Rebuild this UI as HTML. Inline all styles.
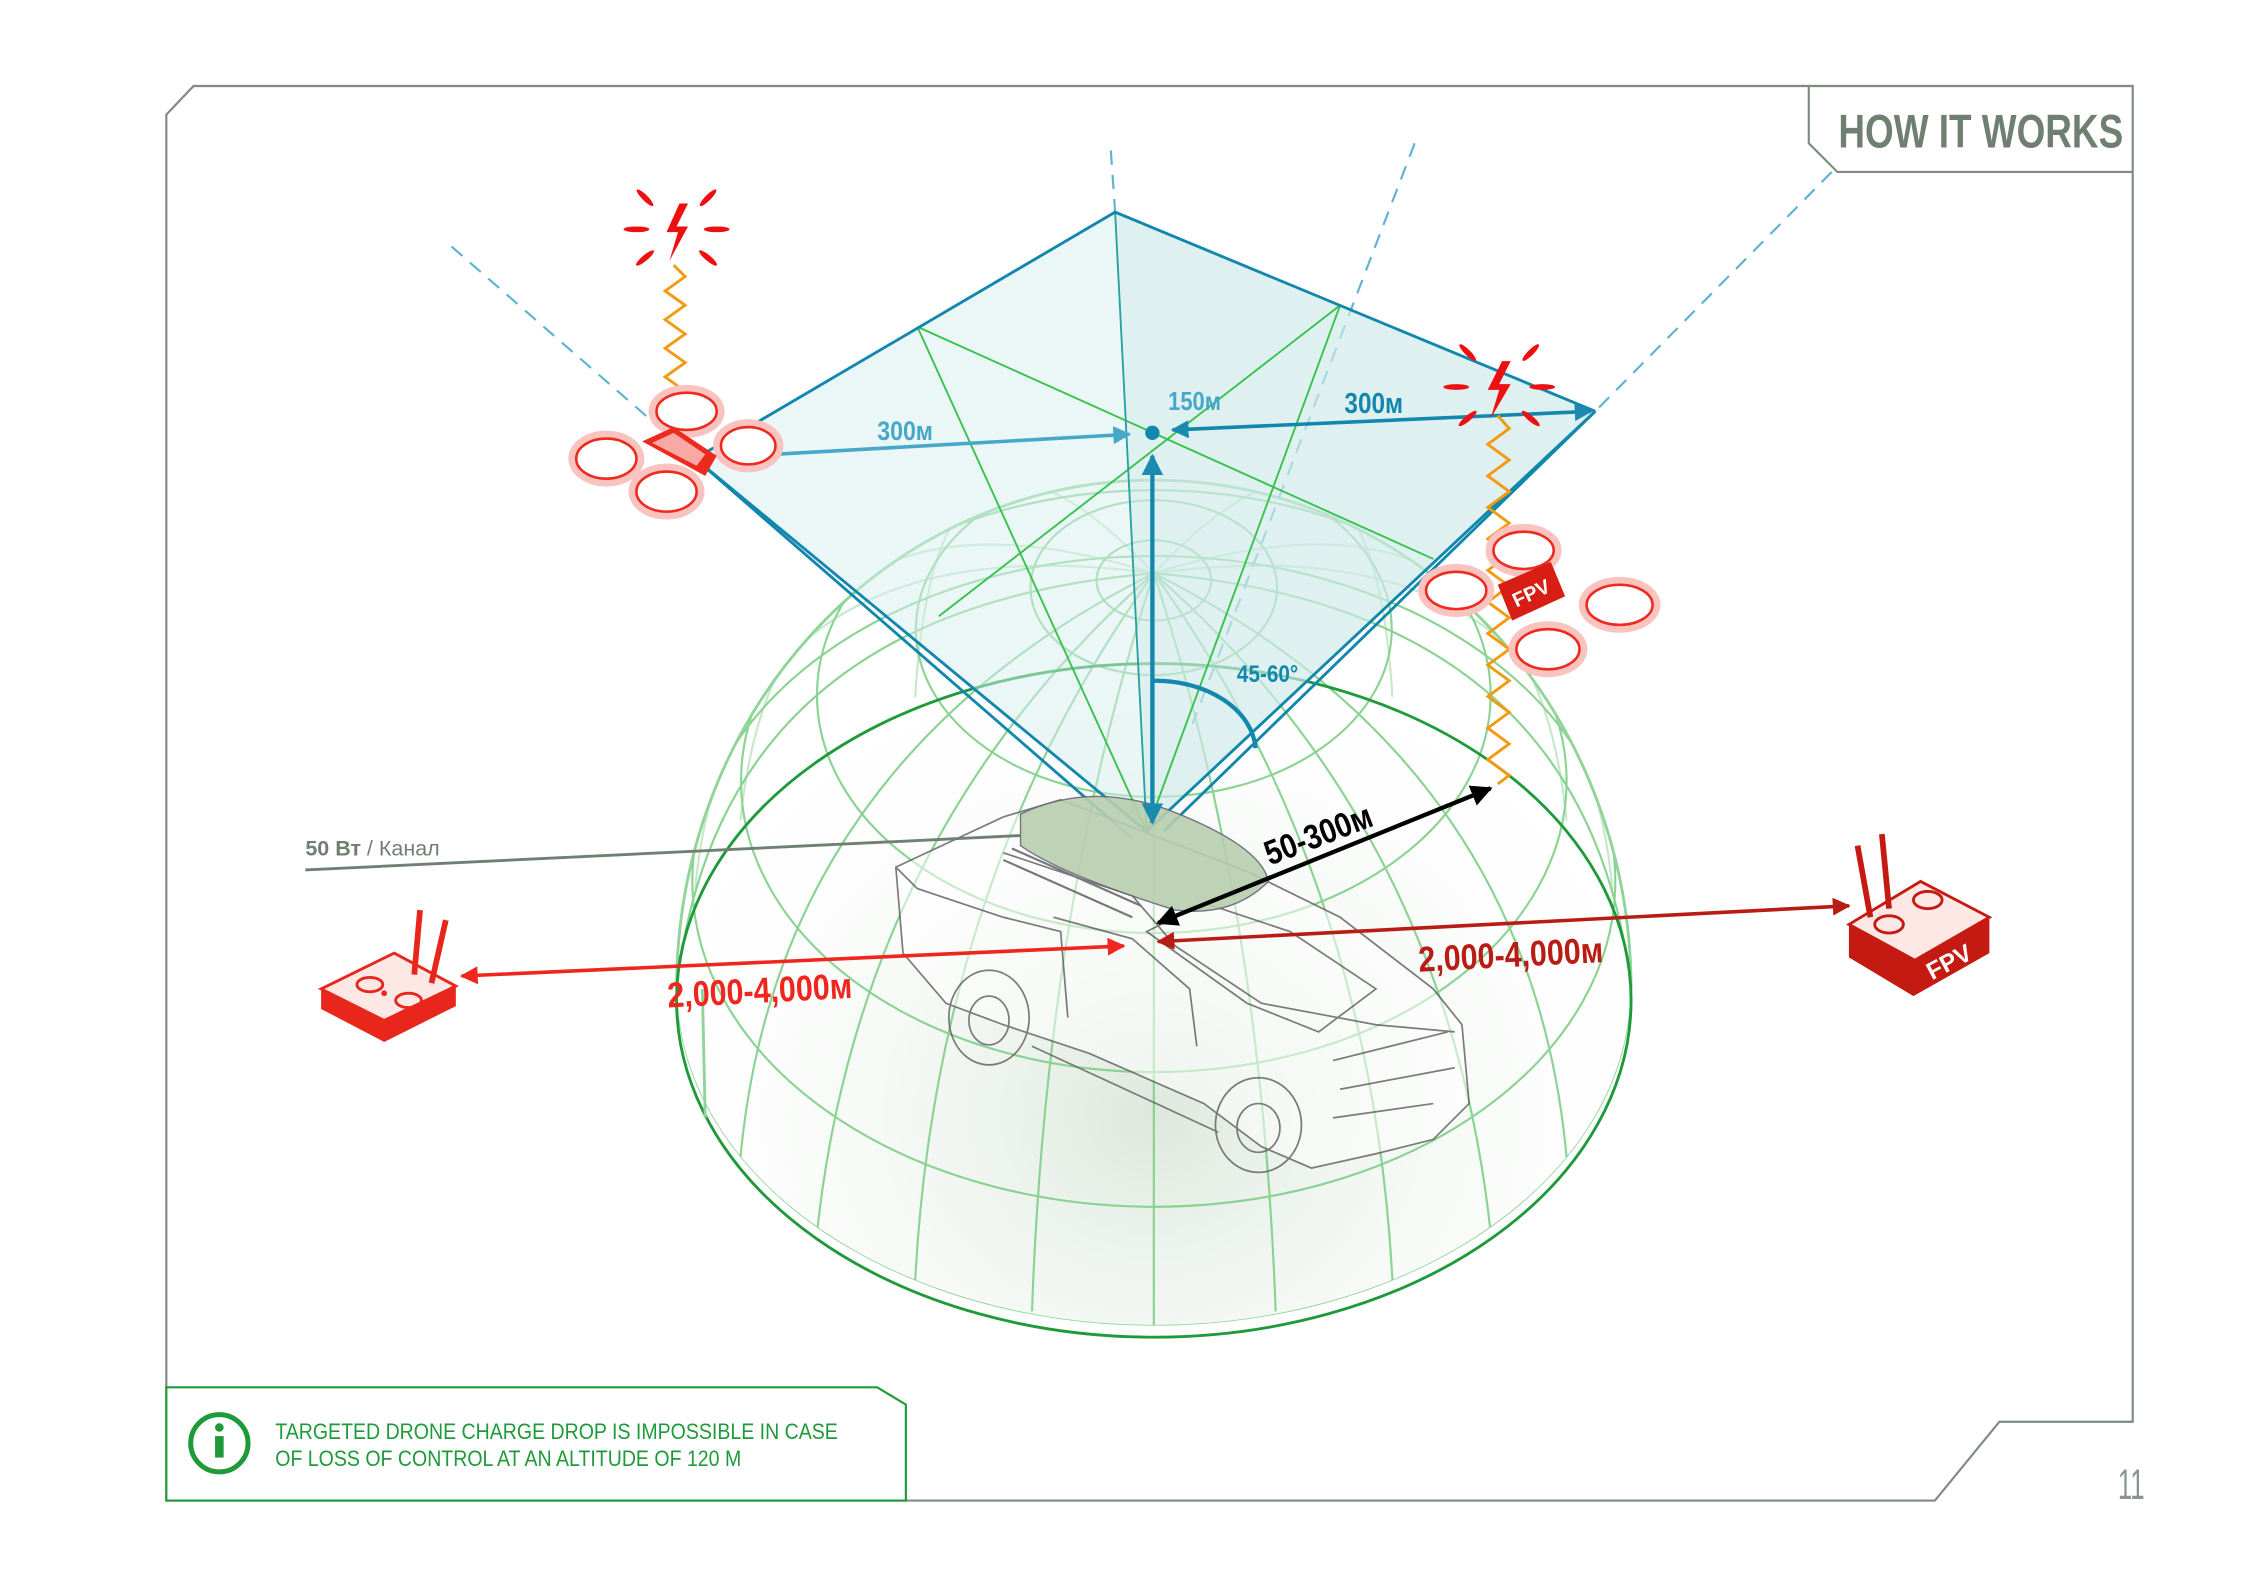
<!DOCTYPE html>
<html><head><meta charset="utf-8"><style>html,body{margin:0;padding:0;background:#fff}svg{display:block}</style></head>
<body>
<svg width="2246" height="1588" viewBox="0 0 1567 1108" xmlns="http://www.w3.org/2000/svg" font-family="'Liberation Sans', 'Noto Sans CJK SC', sans-serif">
<defs>
<clipPath id="dome"><path d="M472,690 A333,355 0 0 1 1138,690 A333,235 0 0 1 472,690 Z"/></clipPath>
<radialGradient id="g1" cx="0.5" cy="0.75" r="0.6"><stop offset="0" stop-color="#dde8dd"/><stop offset="1" stop-color="#ffffff" stop-opacity="0"/></radialGradient>
<marker id="ab" viewBox="0 0 10 10" refX="9" refY="5" markerWidth="5" markerHeight="5" orient="auto-start-reverse"><path d="M0,0 L10,5 L0,10 Z" fill="#1a8ab0"/></marker>
<marker id="ab2" viewBox="0 0 10 10" refX="9" refY="5" markerWidth="5" markerHeight="5" orient="auto-start-reverse"><path d="M0,0 L10,5 L0,10 Z" fill="#46a7c8"/></marker>
<marker id="ak" viewBox="0 0 10 10" refX="9" refY="5" markerWidth="5" markerHeight="5" orient="auto-start-reverse"><path d="M0,0 L10,5 L0,10 Z" fill="#000"/></marker>
<marker id="ar" viewBox="0 0 10 10" refX="9" refY="5" markerWidth="5" markerHeight="5" orient="auto-start-reverse"><path d="M0,0 L10,5 L0,10 Z" fill="#f0261e"/></marker>
<marker id="ad" viewBox="0 0 10 10" refX="9" refY="5" markerWidth="5" markerHeight="5" orient="auto-start-reverse"><path d="M0,0 L10,5 L0,10 Z" fill="#b91c14"/></marker>
</defs>

<path d="M116,80 L135,60 L1488,60 L1488,992 L1395,992 L1350,1047 L116,1047 Z" fill="none" stroke="#7d8c7e" stroke-width="1.5"/>
<path d="M1262,60 L1262,100 L1282,120 L1488,120" fill="none" stroke="#7d8c7e" stroke-width="1.5"/>
<text x="1382" y="103" font-size="33" font-weight="bold" fill="#6f7f72" text-anchor="middle" transform="translate(1382 0) scale(0.78 1) translate(-1382 0)">HOW IT WORKS</text>
<text x="1487" y="1046" font-size="30" fill="#8a968b" text-anchor="middle" transform="translate(1487 0) scale(0.6 1) translate(-1487 0)">11</text>

<path d="M116,968 L612,968 L632,980 L632,1047 L116,1047 Z" fill="#fff" stroke="#1f9a3a" stroke-width="1.5"/>
<circle cx="153" cy="1007" r="20" fill="none" stroke="#1f9a3a" stroke-width="3.5"/>
<circle cx="153" cy="996" r="3" fill="#1f9a3a"/>
<rect x="150" y="1002" width="6" height="15" fill="#1f9a3a"/>
<g transform="translate(192 0) scale(0.88 1)">
<text x="0" y="1004" font-size="15.5" fill="#1f9a3a">TARGETED DRONE CHARGE DROP IS IMPOSSIBLE IN CASE</text>
<text x="0" y="1023" font-size="15.5" fill="#1f9a3a">OF LOSS OF CONTROL AT AN ALTITUDE OF 120 M</text>
</g>

<path d="M472,690 A333,355 0 0 1 1138,690 A333,235 0 0 1 472,690 Z" fill="url(#g1)"/>
<g clip-path="url(#dome)" fill="none" stroke="#7fcf88" stroke-width="1.5" opacity="0.9">
<path d="M805,400 Q1108.5,425 1138,690"/>
<path d="M805,400 Q1068,532 1093,807.5"/>
<path d="M805,400 Q956.75,610.85 971.5,893.5"/>
<path d="M805,400 Q805,639.5 805,925"/>
<path d="M805,400 Q653.25,610.85 638.5,893.5"/>
<path d="M805,400 Q542.2,532 516.6,807.5"/>
<path d="M805,400 Q501.5,425 472,690"/>
<path d="M805,400 Q542.2,317.75 516.6,572.5" opacity="0.5"/>
<path d="M805,400 Q653.25,239 638.5,486.5" opacity="0.5"/>
<path d="M805,400 Q956.75,239 971.5,486.5" opacity="0.5"/>
<path d="M805,400 Q1068,317.75 1093,572.5" opacity="0.5"/>
<path d="M805,400 Q1100,360 1125,620" opacity="0.5"/>
<path d="M805,400 Q510,360 485,620" opacity="0.5"/>
<path d="M805,400 Q1010,580 1040,860"/>
<path d="M805,400 Q600,580 570,860"/>
<path d="M805,400 Q880,630 890,915"/>
<path d="M805,400 Q730,630 720,915"/>
<ellipse cx="805" cy="615" rx="322" ry="227"/>
<ellipse cx="805" cy="545" rx="288" ry="203"/>
<ellipse cx="805" cy="485" rx="235" ry="166"/>
<ellipse cx="805" cy="439" rx="166" ry="117"/>
<ellipse cx="805" cy="410" rx="86" ry="61"/>
<ellipse cx="805" cy="405" rx="40" ry="28"/>
<path d="M472,690 A333,235 0 0 0 1138,690" stroke-width="1.2"/>
<path d="M472,760 A333,235 0 0 0 1138,760" opacity="0.6"/>
<path d="M480,820 A325,200 0 0 0 1130,820" opacity="0.6"/>
</g>
<path d="M472,690 A333,355 0 0 1 1138,690" fill="none" stroke="#8fd498" stroke-width="2"/>
<ellipse cx="805" cy="698" rx="333" ry="235" fill="none" stroke="#1f9a3a" stroke-width="2"/>
<line x1="490" y1="690" x2="492" y2="780" stroke="#8fd498" stroke-width="2"/>

<g stroke="#5fb2d0" stroke-width="1.5" stroke-dasharray="10,7" fill="none">
<line x1="315" y1="172" x2="485" y2="320"/>
<line x1="775" y1="105" x2="778" y2="148"/>
<line x1="987" y1="100" x2="832" y2="505"/>
<line x1="1278" y1="120" x2="1113" y2="287"/>
</g>

<polygon points="778,148 1113,287 800,580 485,320" fill="#d8eeee" fill-opacity="0.5"/>
<polygon points="778,148 1113,287 800,580" fill="#c8e6e6" fill-opacity="0.35"/>
<g fill="none" stroke="#35c24a" stroke-width="1.3">
<line x1="640" y1="228" x2="1000" y2="390"/>
<line x1="935" y1="213" x2="655" y2="430"/>
<line x1="640" y1="228" x2="800" y2="580"/>
<line x1="935" y1="213" x2="800" y2="580"/>
<line x1="778" y1="148" x2="800" y2="580" stroke="#2aa0a0"/>
</g>
<g fill="none" stroke="#1287ad" stroke-width="2">
<polyline points="485,320 778,148 1113,287"/>
<line x1="485" y1="320" x2="800" y2="580"/>
<line x1="1113" y1="287" x2="800" y2="580"/>
<line x1="485" y1="320" x2="790" y2="585"/>
<line x1="1113" y1="287" x2="812" y2="580"/>
</g>

<g fill="none" stroke="#666" stroke-width="1.2" opacity="0.85">
<path d="M625,605 L700,570 L740,558 L870,608 L935,640 L1000,690 L1020,715 L1025,770 L1000,795 L960,805 L915,815 L880,800 L840,770 L760,735 L700,715 L660,700 L630,665 Z" fill="#fff" fill-opacity="0.6"/>
<path d="M700,595 L790,625 L820,660 L880,700 L960,715 L1015,720"/>
<path d="M735,640 L790,655 L830,690 L835,730"/>
<path d="M800,650 L840,630 L900,650 L960,690 L920,720 L870,700 Z"/>
<path d="M625,605 L640,620 L700,640 L740,650 L745,710"/>
<path d="M930,740 L1010,720 M935,760 L1015,745 M930,780 L1000,770"/>
<ellipse cx="690" cy="710" rx="28" ry="33"/>
<ellipse cx="690" cy="712" rx="14" ry="17"/>
<ellipse cx="878" cy="785" rx="30" ry="33"/>
<ellipse cx="878" cy="787" rx="15" ry="17"/>
<path d="M720,730 L850,790"/>
</g>
<path d="M712,568 Q760,545 815,565 Q880,590 885,615 Q860,640 820,635 Q740,610 712,590 Z" fill="#b8ceae" stroke="#667" stroke-width="1" opacity="0.9"/>
<path d="M700,600 L790,640 M706,592 L796,632" stroke="#777" stroke-width="1.5"/>

<line x1="213" y1="607" x2="712" y2="583" stroke="#6f7f72" stroke-width="2"/>
<text x="213" y="597" font-size="15" fill="#6f7f72"><tspan font-weight="bold">50 Вт</tspan> / Канал</text>

<line x1="540" y1="317" x2="788" y2="303" stroke="#46a7c8" stroke-width="2.5" marker-end="url(#ab2)"/>
<text x="612" y="307" font-size="19" font-weight="bold" fill="#46a7c8" transform="translate(612 0) scale(0.85 1) translate(-612 0)">300м</text>
<circle cx="804" cy="302" r="5" fill="#1287ad"/>
<text x="815" y="286" font-size="18" font-weight="bold" fill="#46a7c8" transform="translate(815 0) scale(0.85 1) translate(-815 0)">150м</text>
<line x1="818" y1="300" x2="1110" y2="287" stroke="#1287ad" stroke-width="2.5" marker-start="url(#ab)" marker-end="url(#ab)"/>
<text x="938" y="288" font-size="20" font-weight="bold" fill="#1287ad" transform="translate(938 0) scale(0.85 1) translate(-938 0)">300м</text>
<line x1="804" y1="318" x2="804" y2="574" stroke="#1287ad" stroke-width="3" marker-start="url(#ab)" marker-end="url(#ab)"/>
<path d="M804,475 A70,50 0 0 1 876,522" fill="none" stroke="#1287ad" stroke-width="3"/>
<text x="863" y="476" font-size="17" font-weight="bold" fill="#1287ad" transform="translate(863 0) scale(0.85 1) translate(-863 0)">45-60°</text>

<line x1="808" y1="644" x2="1040" y2="550" stroke="#000" stroke-width="3" marker-start="url(#ak)" marker-end="url(#ak)"/>
<text x="0" y="0" font-size="24" font-weight="bold" fill="#000" transform="translate(886 604) rotate(-21) scale(0.85 1)">50-300м</text>

<line x1="322" y1="681" x2="784" y2="660" stroke="#f0261e" stroke-width="2.5" marker-start="url(#ar)" marker-end="url(#ar)"/>
<text x="0" y="0" font-size="25" font-weight="bold" fill="#f0261e" transform="translate(466 703) rotate(-3) scale(0.85 1)">2,000-4,000м</text>
<line x1="808" y1="657" x2="1290" y2="632" stroke="#b91c14" stroke-width="2.5" marker-start="url(#ad)" marker-end="url(#ad)"/>
<text x="0" y="0" font-size="25" font-weight="bold" fill="#b91c14" transform="translate(990 678) rotate(-3) scale(0.85 1)">2,000-4,000м</text>

<polyline points="470,185 478,193 464,203 478,213 464,223 478,233 464,243 478,253 464,263 478,273 464,283 478,293 464,303 478,313 470,320" fill="none" stroke="#f39a10" stroke-width="2"/>
<polyline points="1045,290 1053,299 1038,310 1053,321 1038,332 1053,343 1038,354 1053,365 1038,376 1053,387 1038,398 1053,409 1038,420 1053,431 1038,442 1053,453 1038,464 1053,475 1038,486 1053,497 1038,508 1053,519 1038,530 1053,541 1045,547" fill="none" stroke="#f39a10" stroke-width="2"/>

<g fill="#ee1010">
<path d="M474,142 L465,162 L473,162 L467,182 L480,158 L472,158 L480,142 Z"/>
<path d="M1048,252 L1038,272 L1046,272 L1040,292 L1054,268 L1046,268 L1054,252 Z"/>
<g transform="translate(472,160)">
<ellipse cx="-28" cy="0" rx="9" ry="2"/><ellipse cx="28" cy="0" rx="9" ry="2"/>
<ellipse cx="-22" cy="-22" rx="8" ry="2" transform="rotate(45 -22 -22)"/><ellipse cx="22" cy="-22" rx="8" ry="2" transform="rotate(-45 22 -22)"/>
<ellipse cx="-22" cy="20" rx="8" ry="2" transform="rotate(-40 -22 20)"/><ellipse cx="22" cy="20" rx="8" ry="2" transform="rotate(40 22 20)"/>
</g>
<g transform="translate(1046,270)">
<ellipse cx="-30" cy="0" rx="9" ry="2"/><ellipse cx="30" cy="0" rx="9" ry="2"/>
<ellipse cx="-22" cy="-24" rx="8" ry="2" transform="rotate(45 -22 -24)"/><ellipse cx="22" cy="-24" rx="8" ry="2" transform="rotate(-45 22 -24)"/>
<ellipse cx="-22" cy="22" rx="8" ry="2" transform="rotate(-40 -22 22)"/><ellipse cx="22" cy="22" rx="8" ry="2" transform="rotate(40 22 22)"/>
</g>
</g>

<g>
<g fill="#fff" stroke="#f9c3c0" stroke-width="5">
<ellipse cx="479" cy="287" rx="24" ry="16"/><ellipse cx="522" cy="311" rx="22" ry="16"/>
<ellipse cx="465" cy="343" rx="24" ry="17"/><ellipse cx="423" cy="320" rx="24" ry="17"/>
</g>
<g fill="none" stroke="#ee2a1e" stroke-width="1.8">
<ellipse cx="479" cy="287" rx="21" ry="13"/><ellipse cx="522" cy="311" rx="19" ry="13"/>
<ellipse cx="465" cy="343" rx="21" ry="14"/><ellipse cx="423" cy="320" rx="21" ry="14"/>
</g>
<path d="M448,308 L470,298 L500,318 L492,332 Z" fill="#ee2a1e"/>
<path d="M455,309 L470,302 L492,317 L486,325 Z" fill="#fff" opacity="0.6"/>
</g>

<g>
<g fill="#fff" stroke="#f9c3c0" stroke-width="5">
<ellipse cx="1063" cy="384" rx="24" ry="16"/><ellipse cx="1130" cy="422" rx="26" ry="17"/>
<ellipse cx="1080" cy="453" rx="25" ry="17"/><ellipse cx="1016" cy="412" rx="24" ry="16"/>
</g>
<g fill="none" stroke="#ee2a1e" stroke-width="1.8">
<ellipse cx="1063" cy="384" rx="21" ry="13"/><ellipse cx="1130" cy="422" rx="23" ry="14"/>
<ellipse cx="1080" cy="453" rx="22" ry="14"/><ellipse cx="1016" cy="412" rx="21" ry="13"/>
</g>
<path d="M1045,408 L1082,392 L1092,416 L1055,433 Z" fill="#d81e14"/>
<text x="0" y="0" font-size="14" font-weight="bold" fill="#fff" transform="translate(1058 424) rotate(-25)">FPV</text>
</g>

<g>
<path d="M224,690 L275,665 L318,688 L318,702 L268,727 L224,704 Z" fill="#e8261c"/>
<path d="M224,690 L275,665 L318,688 L268,712 Z" fill="#fde8e6" stroke="#e8261c" stroke-width="2"/>
<line x1="289" y1="680" x2="293" y2="635" stroke="#e8261c" stroke-width="4"/>
<line x1="301" y1="686" x2="311" y2="642" stroke="#e8261c" stroke-width="4"/>
<ellipse cx="258" cy="687" rx="9" ry="5" fill="none" stroke="#e8261c" stroke-width="2"/>
<ellipse cx="285" cy="698" rx="9" ry="5" fill="none" stroke="#e8261c" stroke-width="2"/>
<circle cx="268" cy="693" r="2" fill="#e8261c"/>
</g>

<g>
<path d="M1290,645 L1340,615 L1388,640 L1388,665 L1335,695 L1290,668 Z" fill="#c51a12"/>
<path d="M1290,645 L1340,615 L1388,640 L1336,670 Z" fill="#fde8e6" stroke="#c51a12" stroke-width="2"/>
<line x1="1305" y1="640" x2="1296" y2="590" stroke="#c51a12" stroke-width="4"/>
<line x1="1318" y1="634" x2="1313" y2="582" stroke="#c51a12" stroke-width="4"/>
<ellipse cx="1318" cy="645" rx="10" ry="6" fill="none" stroke="#c51a12" stroke-width="2"/>
<ellipse cx="1345" cy="628" rx="10" ry="6" fill="none" stroke="#c51a12" stroke-width="2"/>
<text x="0" y="0" font-size="17" font-weight="bold" fill="#fff" transform="translate(1348 684) rotate(-28)">FPV</text>
</g>
</svg>
</body></html>
